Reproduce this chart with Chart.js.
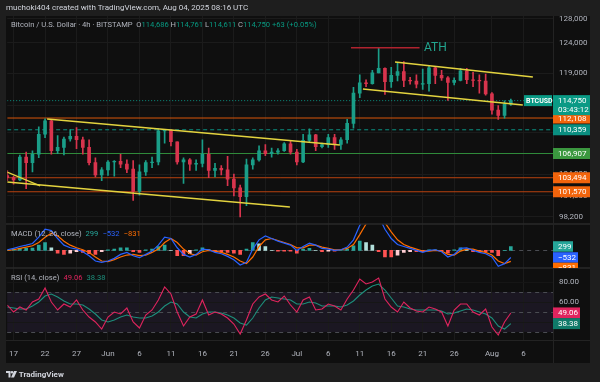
<!DOCTYPE html>
<html>
<head>
<meta charset="utf-8">
<script src="https://cdn.jsdelivr.net/npm/chart.js@4.4.1/dist/chart.umd.min.js"></script>
<style>
html, body { margin: 0; padding: 0; background: #1e1e1e; }
#wrap { position: relative; width: 600px; height: 382px; overflow: hidden; font-family: Roboto, "Liberation Sans", sans-serif; }
canvas { position: absolute; left: 0; top: 0; }
.t { position: absolute; white-space: nowrap; line-height: 1; }
.g { color: #b2b5be; }
.v { color: #089981; }
</style>
</head>
<body>
<div id="wrap">
  <canvas id="myChart" width="600" height="382"></canvas>
  <div class="t" style="left:6px;top:4px;font-size:8px;color:#d1d4dc">muchoki404 created with TradingView.com, Aug 04, 2025 08:16 UTC</div>
  <div class="t g" style="left:11px;top:21px;font-size:7.6px">Bitcoin / U.S. Dollar · 4h · BITSTAMP &nbsp;O<span class="v">114,686</span> H<span class="v">114,761</span> L<span class="v">114,611</span> C<span class="v">114,750</span> <span class="v">+63 (+0.05%)</span></div>
  <div class="t" style="left:6px;top:371px;font-size:8px;color:#d1d4dc;font-weight:bold">
    <svg width="11" height="7" viewBox="0 0 11 7" style="vertical-align:-1px"><path d="M0 0h4.5v6.5H2.5V2H0z" fill="#d1d4dc"/><circle cx="6" cy="1.3" r="1.3" fill="#d1d4dc"/><path d="M8 0h3l-3 6.5H5z" fill="#d1d4dc"/></svg> TradingView
  </div>
</div>
<script>
// daily candles, first one is May 16 (day -1, day 0 = May 17)
const firstDay = -1;
const candleOpen = [103800,103500,103200,106400,105600,106800,109700,111700,107300,107800,109000,109400,108900,107800,105600,103900,104600,105700,105800,105400,104700,101600,104300,105600,105700,110200,110300,108600,105700,106000,105400,105500,106800,104500,104800,104600,103300,102100,100900,105300,106000,107300,106900,107100,107300,108300,107100,105700,108800,109600,107900,108200,109200,108200,108900,111300,115900,117500,117400,119100,119800,117700,118700,119300,117900,117800,117300,117400,119900,118700,118300,117600,117900,119400,118000,117900,117800,115800,113300,112500,114200];
const candleHigh = [104500,103700,106700,107100,107300,110800,112000,111900,109500,109300,110400,110700,109300,108900,106300,104900,105900,105900,106800,106000,105900,105300,105900,106400,110500,110400,110300,108600,106300,106200,106000,108900,107700,105500,105200,106500,104000,102500,106100,106300,108000,108200,107700,107600,108500,108700,107500,109700,110500,109700,108400,109700,109700,109200,111900,116800,118800,118000,119500,123200,119900,120000,120800,120900,118400,118800,119700,120200,120000,119500,118500,118300,119800,119800,119200,118800,118900,116000,114000,114700,115000];
const candleLow = [103100,102600,103100,102000,104300,106300,109200,106800,106900,106700,108700,107600,106800,105300,103600,103100,103800,103700,104900,104200,100400,101100,103800,104900,105300,108400,108000,105400,102700,104500,104500,105000,103500,103600,103900,102400,101000,98200,99700,104700,105800,106600,106400,106800,107200,106800,105300,105600,108600,107300,107700,107800,107500,107500,108400,110600,115200,116900,117300,119100,115700,116800,117800,116900,117300,116700,116500,116200,117400,117900,114800,117200,117800,117400,116900,115900,115600,112700,111900,112100,114000];
const candleClose = [103500,103200,106400,105600,106800,109700,111700,107300,107800,109000,109400,108900,107800,105600,103900,104600,105700,105800,105400,104700,101600,104300,105600,105700,110200,110300,108600,105700,106000,105400,105500,106800,104500,104800,104600,103300,102100,100900,105300,106000,107300,106900,107100,107300,108300,107100,105700,108800,109600,107900,108200,109200,108200,108900,111300,115900,117500,117400,119100,119800,117700,118700,119300,117900,117800,117300,117400,119900,118700,118300,117600,117900,119400,118000,117900,117800,115800,113300,112500,114200,114750];

const macdLine = [50,150,300,400,525,1000,1600,1500,900,400,200,100,-100,-400,-800,-900,-800,-600,-300,-150,-400,-550,-300,-50,400,1000,900,200,-300,-500,-300,100,50,-150,-250,-450,-700,-1100,-900,100,800,1100,900,700,550,400,0,300,550,400,150,100,0,50,250,800,1900,2600,3000,2600,1600,900,450,300,150,0,-150,0,50,-100,-500,-300,150,200,0,-150,-250,-500,-1200,-1000,-532];
const macdSignal = [0,50,150,250,350,600,1000,1300,1100,700,400,200,50,-150,-500,-800,-850,-700,-500,-350,-300,-400,-350,-150,100,600,900,600,100,-250,-350,-100,0,-50,-150,-300,-500,-800,-1000,-500,300,800,900,750,600,450,200,200,400,400,250,150,50,50,150,450,1200,2000,2600,2700,2100,1400,800,450,250,100,-50,-50,0,-50,-300,-350,-50,100,100,-50,-150,-350,-800,-1000,-831];
const macdHist = [50,100,150,150,175,400,600,200,-200,-300,-200,-100,-150,-250,-300,-100,50,100,200,200,-100,-150,50,100,300,400,0,-400,-400,-250,50,200,50,-100,-100,-150,-200,-300,100,600,500,300,0,-50,-50,-50,-200,100,150,0,-100,-50,-50,0,100,350,700,600,400,-100,-500,-500,-350,-150,-100,-100,-100,50,50,-50,-200,50,200,100,-100,-100,-100,-150,-400,0,299];

const rsiLine = [57,50,55,52,60,63,74,60,52,58,55,62,52,45,40,33,45,50,48,54,40,34,47,52,62,75,68,50,36,45,48,62,47,50,48,44,38,28,42,58,65,68,62,60,66,57,50,62,65,52,53,58,56,52,63,72,83,78,80,84,63,55,50,60,54,51,50,55,53,50,36,52,58,58,50,47,53,35,27,40,49.06];
const rsiAverage = [55,54,53,53,56,60,66,68,65,61,58,58,57,53,48,42,40,42,45,47,45,44,44,46,50,56,60,58,50,45,44,48,50,50,49,47,44,39,37,44,54,62,65,64,63,62,58,58,60,59,56,56,56,55,57,61,67,72,76,78,72,64,56,55,53,52,52,52,52,51,48,49,51,53,52,50,48,44,36,33,38.38];
const rsiBand = [30, 50, 70];

// drawings on the price pane, [day, price]
const trendLines = [
  [[5.33, 111960], [51.84, 108130]],
  [[-1.02, 102910], [43.9, 99520]],
  [[-1.02, 104290], [4.22, 102360]],
  [[60.6, 120840], [82.5, 118440]],
  [[55.5, 116560], [80.9, 114090]]
];
const athLine = [[53.6, 123170], [64.5, 123170]];
const athText = [65.2, 123170, 'ATH'];

const lastPrice = 114750;
const levelValues = [112108, 110359, 106907, 103494, 101570];
const levelLabels = ['112,108', '110,359', '106,907', '103,494', '101,570'];
const levelColors = ['#d9560a', '#0a8f80', '#2f8a3a', '#b8420f', '#b8420f'];
const levelTagColors = ['#f2640c', '#0a8f80', '#3b983f', '#f2640c', '#f2640c'];

const macdTags = [299, -532, -831];
const macdTagLabels = ['299', '−532', '−831'];
const rsiTags = [49.06, 38.38];
const rsiTagLabels = ['49.06', '38.38'];

const priceTicks = [128000, 124000, 119000, 114000, 110000, 104000, 101000, 98200];
const rsiTicks = [80, 60, 40];
const tickDays = [0, 5, 10, 15, 20, 25, 30, 35, 40, 45, 50, 55, 60, 65, 70, 76, 81];
const tickLabels = ['17', '22', '27', 'Jun', '6', '11', '16', '21', '26', 'Jul', '6', '11', '16', '21', '26', 'Aug', '6'];

const xMin = -1.02, xMax = 85.7;
const UP = '#1a9e88', DOWN = '#d8344d';
const FONT = 'Roboto, "Liberation Sans", sans-serif';

const xs = candleClose.map((_, i) => firstDay + i);
const candleColors = candleClose.map((c, i) => c >= candleOpen[i] ? UP : DOWN);
const histColors = macdHist.map((h, i) => {
  const prev = i > 0 ? macdHist[i - 1] : 0;
  if (h >= 0) return h >= prev ? '#26a69a' : '#b2dfdb';
  return h <= prev ? '#ff5252' : '#ffcdd2';
});

function seg(points, axis, color, width, dash) {
  return {
    type: 'line', yAxisID: axis,
    data: points.map(p => ({x: p[0], y: p[1]})),
    borderColor: color, borderWidth: width, borderDash: dash || [],
    pointRadius: 0, tension: 0
  };
}
function series(values, axis, color, width) {
  return {
    type: 'line', yAxisID: axis,
    data: values.map((v, i) => ({x: xs[i], y: v})),
    borderColor: color, borderWidth: width, pointRadius: 0, tension: 0
  };
}

const datasets = [
  ...trendLines.map(t => seg(t, 'yPrice', '#e3d33f', 1.4)),
  seg(athLine, 'yPrice', '#b0232f', 1.5),
  {type: 'bar', yAxisID: 'yPrice', grouped: false, barThickness: 3,
   data: xs.map((x, i) => ({x, y: [candleOpen[i], candleClose[i]]})), backgroundColor: candleColors},
  {type: 'bar', yAxisID: 'yPrice', grouped: false, barThickness: 1,
   data: xs.map((x, i) => ({x, y: [candleLow[i], candleHigh[i]]})), backgroundColor: candleColors},
  seg([[xMin, lastPrice], [xMax, lastPrice]], 'yPrice', '#0a8f80', 1, [1, 2]),
  ...levelValues.map((v, i) => seg([[xMin, v], [xMax, v]], 'yPrice', levelColors[i], 1, i === 1 ? [4, 3] : [])),
  series(macdLine, 'yMacd', '#2962ff', 1.2),
  series(macdSignal, 'yMacd', '#ff6d00', 1.2),
  {type: 'bar', yAxisID: 'yMacd', grouped: false, barThickness: 3,
   data: macdHist.map((h, i) => ({x: xs[i], y: h})), backgroundColor: histColors},
  series(rsiLine, 'yRsi', '#e0245e', 1.1),
  series(rsiAverage, 'yRsi', '#1d8f7c', 1.1)
];

function tag(ctx, x, yc, w, h, color, text) {
  ctx.fillStyle = color;
  ctx.fillRect(x, yc - h / 2, w, h);
  ctx.fillStyle = '#ffffff';
  ctx.fillText(text, x + 5, yc + 0.5);
}

const paneDecor = {
  id: 'paneDecor',
  beforeDraw(chart) {
    const {ctx, chartArea: a, scales} = chart;
    ctx.save();
    ctx.fillStyle = '#1e1e1e';
    ctx.fillRect(0, 0, chart.width, chart.height);
    ctx.fillStyle = '#0f0f0f';
    ctx.fillRect(6, 16, 584, 347);
    const r = scales.yRsi;
    const top = r.getPixelForValue(rsiBand[2]), bottom = r.getPixelForValue(rsiBand[0]);
    ctx.fillStyle = 'rgba(126,87,194,0.11)';
    ctx.fillRect(a.left, top, a.right - a.left, bottom - top);
    ctx.restore();
  },
  beforeDatasetsDraw(chart) {
    const {ctx, chartArea: a, scales} = chart;
    ctx.save();
    ctx.strokeStyle = '#4a4c52';
    ctx.lineWidth = 1;
    ctx.setLineDash([4, 4]);
    const ys = [scales.yMacd.getPixelForValue(0), ...rsiBand.map(v => scales.yRsi.getPixelForValue(v))];
    ys.forEach(y => {
      ctx.beginPath();
      ctx.moveTo(a.left, Math.round(y) + 0.5);
      ctx.lineTo(a.right, Math.round(y) + 0.5);
      ctx.stroke();
    });
    ctx.restore();
  },
  beforeDatasetDraw(chart, args) {
    const s = chart.scales[args.meta.yAxisID];
    const a = chart.chartArea;
    chart.ctx.save();
    chart.ctx.beginPath();
    chart.ctx.rect(a.left, s.top, a.right - a.left, s.bottom - s.top);
    chart.ctx.clip();
  },
  afterDatasetDraw(chart) {
    chart.ctx.restore();
  },
  afterDraw(chart) {
    const {ctx, chartArea: a, scales} = chart;
    const p = scales.yPrice, m = scales.yMacd, r = scales.yRsi, x = scales.x;
    ctx.save();
    // pane separators
    ctx.strokeStyle = '#2a2a2a';
    ctx.lineWidth = 1.5;
    [m.top, r.top].forEach(y => {
      ctx.beginPath(); ctx.moveTo(6, y); ctx.lineTo(590, y); ctx.stroke();
    });
    ctx.lineWidth = 1;
    ctx.strokeStyle = '#232323';
    ctx.beginPath(); ctx.moveTo(6, a.bottom + 0.5); ctx.lineTo(590, a.bottom + 0.5); ctx.stroke();
    ctx.beginPath(); ctx.moveTo(a.right + 0.5, 16); ctx.lineTo(a.right + 0.5, 363); ctx.stroke();

    // ATH note
    ctx.font = '12px ' + FONT;
    ctx.textBaseline = 'middle';
    ctx.fillStyle = '#22a58f';
    ctx.fillText(athText[2], x.getPixelForValue(athText[0]), p.getPixelForValue(athText[1]));

    // pane legends
    ctx.font = '7.6px ' + FONT;
    const legend = (y, parts) => {
      let cx = 11;
      parts.forEach(([t, c]) => { ctx.fillStyle = c; ctx.fillText(t, cx, y); cx += ctx.measureText(t).width + 4; });
    };
    legend(m.top + 10, [['MACD (12, 26, close)', '#b2b5be'], [macdTagLabels[0], '#26a69a'], [macdTagLabels[1], '#2962ff'], [macdTagLabels[2], '#ff6d00']]);
    legend(r.top + 10, [['RSI (14, close)', '#b2b5be'], [rsiTagLabels[0], '#e0245e'], [rsiTagLabels[1], '#1d8f7c']]);

    // price tags on the right axis
    ctx.font = '8px ' + FONT;
    const ax = a.right, aw = 37;
    levelValues.forEach((v, i) => tag(ctx, ax, p.getPixelForValue(v), aw, 11, levelTagColors[i], levelLabels[i]));
    const yl = p.getPixelForValue(lastPrice);
    ctx.fillStyle = '#0a9a85';
    ctx.fillRect(ax, yl - 5.5, aw, 20);
    ctx.fillStyle = '#ffffff';
    ctx.fillText(lastPrice.toLocaleString('en-US'), ax + 5, yl + 0.5);
    ctx.fillText('03:43:12', ax + 5, yl + 9.5);
    ctx.fillStyle = '#0a9a85';
    ctx.fillRect(ax - 29, yl - 5.5, 28, 11);
    ctx.fillStyle = '#ffffff';
    ctx.font = 'bold 7px ' + FONT;
    ctx.fillText('BTCUSD', ax - 27, yl + 0.5);

    // MACD and RSI tags, clipped to their panes
    ctx.font = '8px ' + FONT;
    ctx.save();
    ctx.beginPath(); ctx.rect(ax, m.top, aw + 2, m.bottom - m.top); ctx.clip();
    const macdColors = ['#26a69a', '#2962ff', '#ff6d00'];
    let prev = -100;
    macdTags.forEach((v, i) => {
      const y = Math.max(m.getPixelForValue(v), prev + 10.5);
      tag(ctx, ax, y, i === 0 ? 20 : 25, 10.5, macdColors[i], macdTagLabels[i]);
      prev = y;
    });
    ctx.restore();
    const rsiColors = ['#e0245e', '#0f7a69'];
    rsiTags.forEach((v, i) => tag(ctx, ax, r.getPixelForValue(v), 27, 11, rsiColors[i], rsiTagLabels[i]));
    ctx.restore();
  }
};

const ctx = document.getElementById('myChart');
new Chart(ctx, {
  type: 'bar',
  data: {datasets},
  options: {
    responsive: false,
    animation: false,
    events: [],
    layout: {padding: {left: 7, top: 16, right: 10, bottom: 19}},
    plugins: {legend: {display: false}, tooltip: {enabled: false}},
    scales: {
      x: {
        type: 'linear', min: xMin, max: xMax, offset: false,
        grid: {color: '#1b1b1b', offset: false, drawTicks: false},
        border: {display: false},
        afterBuildTicks: s => { s.ticks = tickDays.map(v => ({value: v})); },
        afterFit: s => { s.height = 23; },
        ticks: {
          autoSkip: false, maxRotation: 0, padding: 9, color: '#b2b5be',
          font: {size: 8, family: FONT},
          callback: v => tickLabels[tickDays.indexOf(v)]
        }
      },
      yPrice: {
        type: 'logarithmic', position: 'right', stack: 'panes', stackWeight: 208,
        min: 97280, max: 128515,
        grid: {color: '#1b1b1b', drawTicks: false},
        border: {display: false},
        afterBuildTicks: s => { s.ticks = priceTicks.map(v => ({value: v})); },
        afterFit: s => { s.width = 37; },
        ticks: {autoSkip: false, padding: 6, color: '#b2b5be', font: {size: 8, family: FONT},
                callback: v => v.toLocaleString('en-US')}
      },
      yMacd: {
        type: 'linear', position: 'right', stack: 'panes', stackWeight: 44,
        min: -1330, max: 2000,
        grid: {display: false},
        border: {display: false},
        afterBuildTicks: s => { s.ticks = []; },
        afterFit: s => { s.width = 37; },
        ticks: {display: false}
      },
      yRsi: {
        type: 'linear', position: 'right', stack: 'panes', stackWeight: 72,
        min: 22, max: 94,
        grid: {color: '#161616', drawTicks: false},
        border: {display: false},
        afterBuildTicks: s => { s.ticks = rsiTicks.map(v => ({value: v})); },
        afterFit: s => { s.width = 37; },
        ticks: {autoSkip: false, padding: 6, color: '#b2b5be', font: {size: 8, family: FONT},
                callback: v => v.toFixed(2)}
      }
    }
  },
  plugins: [paneDecor]
});
</script>
</body>
</html>
